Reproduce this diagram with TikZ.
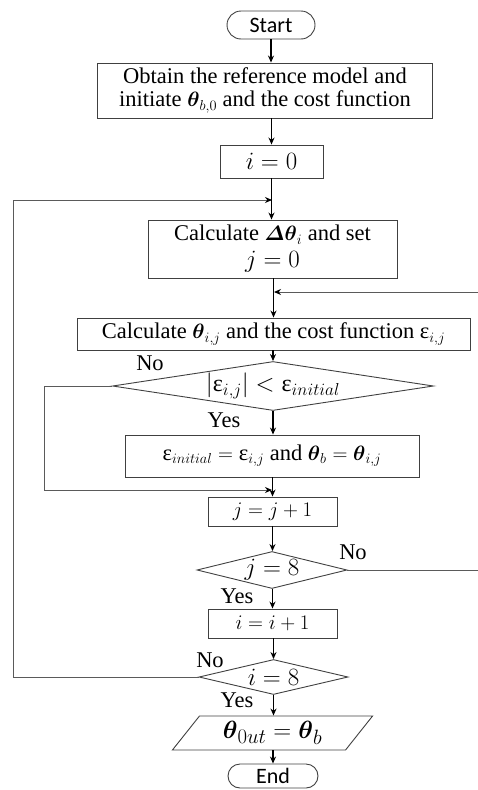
\documentclass[tikz,border=0pt]{standalone}
\usepackage{amsmath}
\usepackage{fontspec}
\setmainfont{Liberation Serif}
\newfontfamily\calib{Carlito}
\usetikzlibrary{shapes.geometric,shapes.misc,arrows.meta}
\definecolor{edgegray}{RGB}{64,64,64}
\definecolor{loopgray}{RGB}{90,90,90}
\newcommand{\bth}{\boldsymbol{\theta}}
\newcommand{\eps}{\text{ε}}
\newcommand{\fsz}[1]{\fontsize{#1}{#1}\selectfont}
\begin{document}
\begin{tikzpicture}[x=1pt,y=-1pt,font=\fontsize{22.5}{22}\selectfont,
    box/.style={draw=edgegray,line width=0.9pt,inner sep=0pt,align=center},
    term/.style={rounded rectangle,draw=edgegray,line width=0.9pt,inner sep=0pt,
      minimum width=88pt,minimum height=28pt,font=\calib\fontsize{22}{24}\selectfont},
    decide/.style={diamond,draw=edgegray,line width=0.9pt,inner sep=0pt},
    arr/.style={-{Stealth[length=7pt,width=6pt]},line width=1.2pt},
    back/.style={draw=loopgray,line width=1pt,-{Stealth[length=7pt,width=6pt,color=black]}},
    lbl/.style={inner sep=0pt}]
  \useasboundingbox (0,0) rectangle (477,790);
  \node[term] (start) at (271,25) {Start};
  \node[box,minimum width=335pt,minimum height=55pt] (obtain) at (265,90.5)
    {Obtain the reference model and\\[1pt]initiate $\bth_{b,0}$ and the cost function};
  \node[box,minimum width=103pt,minimum height=33pt,font=\fsz{27}] (izero) at (271.5,161.5) {$i=0$};
  \node[box,minimum width=249pt,minimum height=58pt] (calcd) at (272.5,249)
    {Calculate $\boldsymbol{\varDelta\theta}_i$ and set\\[5pt]{\fsz{25}$j=0$}};
  \node[box,minimum width=393pt,minimum height=32pt] (calct) at (273.5,334)
    {Calculate $\bth_{i,j}$ and the cost function $\eps_{i,j}$};
  \node[decide,minimum width=321pt,minimum height=49pt,aspect=6.5,font=\fsz{24}] (cmp) at (273,386)
    {$|\eps_{i,j}|<\eps_{initial}$};
  \node[box,minimum width=294pt,minimum height=42pt] (upd) at (272,456)
    {$\eps_{initial}=\eps_{i,j}$ and $\bth_b=\bth_{i,j}$};
  \node[box,minimum width=129pt,minimum height=29pt,font=\fsz{22.5}] (jinc) at (272.5,511.5) {$j=j+1$};
  \node[decide,minimum width=150pt,minimum height=37pt,aspect=4,font=\fsz{24}] (jchk) at (272,570) {$j=8$};
  \node[box,minimum width=129pt,minimum height=29pt,font=\fsz{22.5}] (iinc) at (272.5,623.5) {$i=i+1$};
  \node[decide,minimum width=149pt,minimum height=35pt,aspect=4.2,font=\fsz{24}] (ichk) at (273.5,677) {$i=8$};
  \node[trapezium,trapezium left angle=51.5,trapezium right angle=128.5,draw=edgegray,
    line width=0.9pt,inner sep=0pt,minimum width=171pt,minimum height=34pt,font=\fsz{28}] (outp) at (272.5,733)
    {$\bth_{0ut}=\bth_b$};
  \node[term,minimum width=90pt,minimum height=24pt] (stop) at (273,776) {End};

  \coordinate (mi) at (272,200);
  \coordinate (mj) at (274,292);
  \coordinate (mk) at (272,490);

  \node[lbl] (no1) at (150,363) {No};
  \node[lbl] (yes1) at (224,420) {Yes};
  \node[lbl] (no2) at (353,552) {No};
  \node[lbl] (yes2) at (237,596) {Yes};
  \node[lbl] (no3) at (210,660) {No};
  \node[lbl] (yes3) at (237,700) {Yes};

  \draw[arr] (start.south) -- (start.south |- obtain.north);
  \draw[arr] (obtain.south -| izero) -- (izero.north);
  \draw[arr] (izero.south) -- (izero.south |- calcd.north);
  \draw[arr] (calcd.south -| calct) -- (calct.north);
  \draw[arr] (calct.south -| cmp) -- (cmp.north);
  \draw[arr] (cmp.south) -- (cmp.south |- upd.north);
  \draw[arr] (upd.south -| jinc) -- (jinc.north);
  \draw[arr] (jinc.south) -- (jinc.south |- jchk.north);
  \draw[arr] (jchk.south -| iinc) -- (iinc.north);
  \draw[arr] (iinc.south -| ichk) -- (ichk.north);
  \draw[arr] (ichk.south) -- (ichk.south |- outp.north);
  \draw[arr] (outp.south -| stop) -- (stop.north);

  \draw[back] (ichk.west) -- (13,677) |- (mi);
  \draw[back] (jchk.east) -- (478,570) |- (mj);
  \draw[back] (cmp.west) -- (44,386) |- (mk);
\end{tikzpicture}
\end{document}
